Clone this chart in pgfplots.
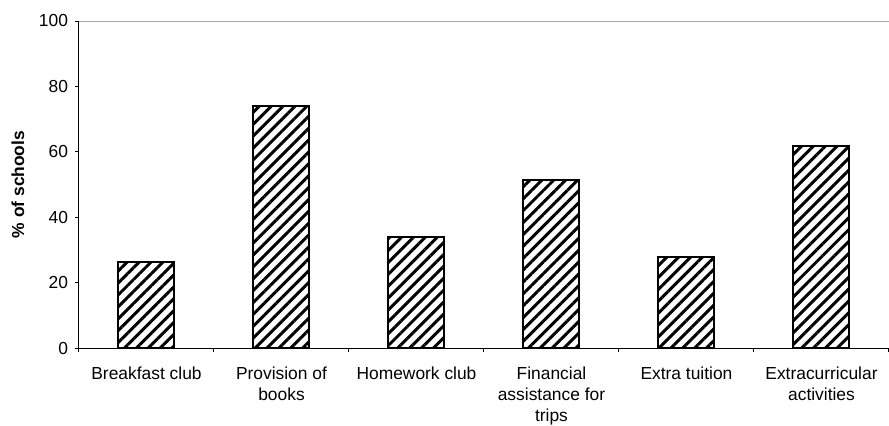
\documentclass[border=0pt]{standalone}
\usepackage{pgfplots}
\pgfplotsset{compat=1.18}
\usetikzlibrary{patterns.meta}
\usepackage{fontspec}
\setmainfont{Liberation Sans}
\begin{document}
\begin{tikzpicture}
\path[use as bounding box] (-39.5pt,-38.5pt) rectangle (405pt,174pt);
\begin{axis}[
  scale only axis, width=405pt, height=163.5pt,
  xmin=-0.5, xmax=5.5, ymin=0, ymax=100,
  axis x line*=bottom, axis y line*=left,
  axis line style={black, line width=0.5pt},
  ytick={0,20,...,100},
  xtick={-0.5,0.5,...,5.5},
  x tick label as interval,
  xticklabels={Breakfast club,{Provision of\\books},Homework club,{Financial\\assistance for\\trips},Extra tuition,{Extracurricular\\activities}},
  tick align=outside, major tick length=2pt,
  tick style={black, line width=0.5pt},
  xticklabel style={align=center, font=\fontsize{8.7}{10.5}\selectfont, anchor=north, yshift=-4pt},
  yticklabel style={font=\fontsize{8.7}{10.5}\selectfont},
  /pgf/number format/assume math mode=true,
  every axis y label/.style={at={(axis description cs:-0.0753,0.5)}, rotate=90, anchor=center, font=\bfseries\fontsize{8.7}{10.5}\selectfont},
  ylabel={\% of schools},
  ybar, bar width=28pt,
]
\draw[gray!70, line width=0.6pt] (axis cs:-0.5,100) -- (axis cs:5.5,100);
\addplot[draw=black, line width=1pt, pattern={Lines[angle=45,distance=4.2pt,line width=1.5pt]}, pattern color=black] coordinates {
(0,26.2) (1,74.0) (2,33.9) (3,51.4) (4,27.9) (5,61.8)};
\end{axis}
\end{tikzpicture}
\end{document}
